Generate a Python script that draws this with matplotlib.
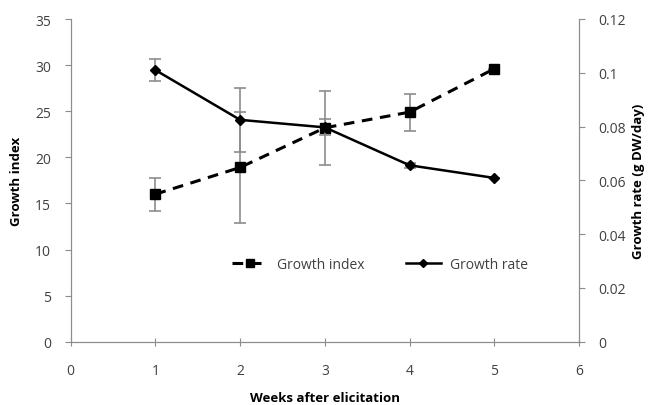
#!/usr/bin/env python3
import numpy as np
from matplotlib import pyplot as plt

# data
weeks = [1, 2, 3, 4, 5]
growth_index = [16.0, 18.9, 23.2, 24.9, 29.6]
growth_index_err = [1.8, 6.0, 4.0, 2.0, 0.0]
growth_rate = [0.101, 0.0825, 0.0797, 0.0656, 0.0609]
growth_rate_err = [0.004, 0.012, 0.003, 0.001, 0.0]

plt.rcParams["font.family"] = ["Open Sans", "DejaVu Sans"]
grey = "#8c8c8c"
txt = "#404040"

fig = plt.figure(figsize=(6.5, 4.06), dpi=100)
ax = fig.add_axes([70.7 / 650, 1 - 342.7 / 406, 508.3 / 650, 322.7 / 406])
ax2 = ax.twinx()

ax.errorbar(weeks, growth_index, yerr=growth_index_err, fmt="none",
            ecolor=grey, elinewidth=1.2, capsize=4, capthick=1.2, zorder=2)
ax.plot(weeks, growth_index, color="black", linestyle=(0, (3.5, 2.5)),
        linewidth=2.2, marker="s", markersize=7, zorder=3,
        label="Growth index")

ax2.errorbar(weeks, growth_rate, yerr=growth_rate_err, fmt="none",
             ecolor=grey, elinewidth=1.2, capsize=4, capthick=1.2, zorder=2)
ax2.plot(weeks, growth_rate, color="black", linewidth=1.8, marker="D",
         markersize=5, zorder=3, label="Growth rate")

ax.set_xlim(0, 6)
ax.set_ylim(0, 35)
ax2.set_ylim(0, 0.12)
ax.set_xticks(range(0, 7))
ax.set_yticks(range(0, 36, 5))
ax2.set_yticks(np.arange(0, 0.121, 0.02))
ax2.set_yticklabels(["0", "0.02", "0.04", "0.06", "0.08", "0.1", "0.12"])

for a in (ax, ax2):
    a.spines["top"].set_visible(False)
    for s in ("left", "right", "bottom"):
        a.spines[s].set_color(grey)
    a.tick_params(colors=grey, labelcolor=txt, labelsize=10, length=4)
ax.tick_params(axis="x", direction="inout", length=6, pad=12)
ax.tick_params(axis="y", pad=10)
ax2.tick_params(axis="y", pad=10)

ax.set_xlabel("Weeks after elicitation", fontsize=9.5, fontweight="bold",
              color="black", labelpad=10)
ax.set_ylabel("Growth index", fontsize=9.5, fontweight="bold", color="black",
              labelpad=9)
ax2.set_ylabel("Growth rate (g DW/day)", fontsize=9.5, fontweight="bold",
               color="black")
# keep the right label inside the canvas
ax2.yaxis.set_label_coords(1.104, 0.5)

h1, l1 = ax.get_legend_handles_labels()
h2, l2 = ax2.get_legend_handles_labels()
ax2.legend(h1 + h2, l1 + l2, loc="center", bbox_to_anchor=(0.609, 0.24),
           ncol=2, frameon=False, fontsize=10, handlelength=2.5,
           handletextpad=0.7, columnspacing=3.0, markerscale=0.8,
           labelcolor=txt)

fig.savefig("out.png", dpi=100)
